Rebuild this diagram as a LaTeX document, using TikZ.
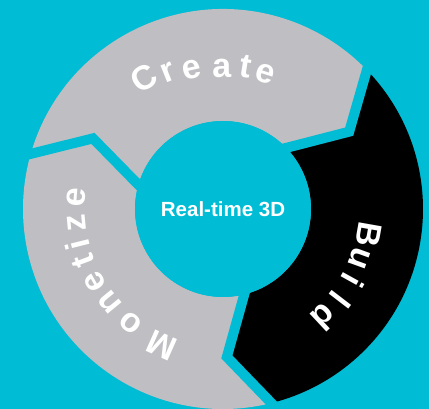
\documentclass[tikz,border=0pt]{standalone}
\usepackage{fontspec}
\setmainfont{Liberation Sans}
\usetikzlibrary{calc}
\definecolor{bgcyan}{RGB}{0,188,212}
\definecolor{ringgray}{RGB}{191,190,194}
\begin{document}
\begin{tikzpicture}[x=1pt,y=1pt,
  gapline/.style={draw=bgcyan, line width=10pt, line join=miter, line cap=butt},
  ltr/.style={text=white, font=\bfseries\fontsize{34}{34}\selectfont, inner sep=0pt, anchor=base},
  hub/.style={circle, fill=bgcyan, minimum size=176pt, inner sep=0pt, text=white,
              font=\bfseries\fontsize{20.5}{20.5}\selectfont}]
\fill[bgcyan] (-223,-200) rectangle (206,209);
\useasboundingbox (-223,-200) rectangle (206,209);
% Create segment
\fill[ringgray] (164:200pt) arc[start angle=164,end angle=44,radius=200pt]
  -- (31.5:148pt) -- (44:88pt) arc[start angle=44,end angle=164,radius=88pt]
  -- (151.5:148pt) -- cycle;
% Build segment
\fill[black] (44:200pt) arc[start angle=44,end angle=-76,radius=200pt]
  -- (-88.5:148pt) -- (-76:88pt) arc[start angle=-76,end angle=44,radius=88pt]
  -- (31.5:148pt) -- cycle;
% Monetize segment
\fill[ringgray] (-76:200pt) arc[start angle=-76,end angle=-196,radius=200pt]
  -- (151.5:148pt) -- (164:88pt) arc[start angle=164,end angle=284,radius=88pt]
  -- (-88.5:148pt) -- cycle;
% gaps
\foreach \t in {44,-76,164}{
  \coordinate (tipA) at (\t-12.5:148pt);
  \coordinate (outA) at (\t:200pt);
  \coordinate (inA) at (\t:88pt);
  \draw[gapline] ($(tipA)!1.3!(outA)$) -- (tipA) -- ($(tipA)!1.2!(inA)$);
}
\node[hub] (center) at (0,0) {\raisebox{-1.5pt}{Real-time 3D}};
% Create
\foreach \ch/\ang/\rad [count=\i] in {C/121/141, r/112/138, e/102.5/134, a/90.5/132, t/81/133, e/72.5/133}
  \node[ltr, rotate=\ang-90] (create\i) at (\ang:\rad pt) {\ch};
% Build
\foreach \ch/\ang [count=\i] in {B/-10, u/-20, i/-29, l/-37.5, d/-47}
  \node[ltr, rotate=\ang-90] (build\i) at (\ang:136pt) {\ch};
% Monetize
\foreach \ch/\ang [count=\i] in {M/-114, o/-129, n/-140.5, e/-150.5, t/-159.5, i/-166, z/-174.5, e/-184.5}
  \node[ltr, rotate=\ang-90] (monetize\i) at (\ang:138pt) {\ch};
\end{tikzpicture}
\end{document}
